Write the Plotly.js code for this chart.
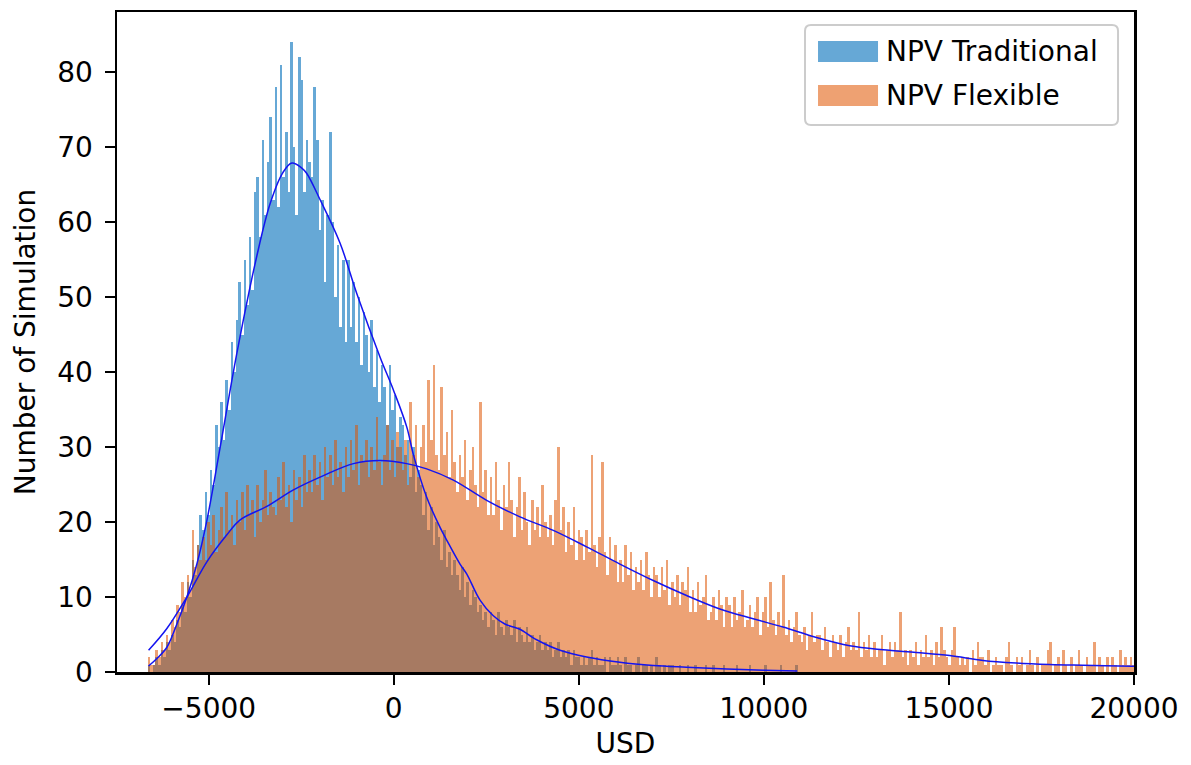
<!DOCTYPE html>
<html>
<head>
<meta charset="utf-8">
<script src="https://cdn.plot.ly/plotly-3.0.1.min.js"></script>
<style>
  html, body { margin: 0; padding: 0; background: #ffffff; }
  #chart { width: 1191px; height: 765px; }
</style>
</head>
<body>
<div id="chart"></div>
<script>
// ---- Histogram bins (USD) ----
const binStart = -6650;
const binWidth = 70;

// ---- NPV Traditional: counts per bin ----
const tradCounts = [
  1,0,1,2,1,3,2,
  4,3,5,4,7,6,9,
  8,12,10,15,13,17,21,
  19,24,21,27,25,33,30,
  36,31,39,35,44,40,47,
  52,45,55,49,58,51,64,
  66,58,71,61,68,74,63,
  78,62,81,66,72,64,84,
  70,61,82,79,64,71,68,
  66,78,71,59,63,52,61,
  72,60,50,57,46,55,44,
  55,46,52,44,50,41,48,
  45,40,47,38,43,36,41,
  38,33,41,35,37,30,34,
  33,29,31,26,30,24,27,
  25,21,24,19,22,17,20,
  18,15,19,14,16,13,15,
  13,11,14,10,12,9,11,
  10,8,9,7,8,6,8,
  7,5,8,6,5,7,6,
  5,7,4,6,5,4,6,
  4,5,3,4,5,3,4,
  3,4,2,3,4,2,3,
  2,3,1,3,2,2,1,
  2,1,2,3,1,2,1,1,2,0,2,1,1,2,
  1,0,2,1,1,0,1,2,0,1,1,0,1,0,2,1,0,1,0,1,1,0,
  0,1,0,0,1,0,0,1,0,0,0,1,0,0,1,0,0,0,1,0,0,0,0,1,
  0,0,0,0,1,0,0,0,0,0,1,0,0,0,0,0,1,0,0,0,0,0,1
];

// ---- NPV Flexible: counts per bin ----
const flexCounts = [
  2,1,1,3,2,4,3,
  5,4,7,6,9,8,12,
  10,13,11,19,14,17,15,
  18,15,20,17,21,16,19,
  22,18,24,19,21,17,23,
  20,24,19,25,21,23,18,
  25,20,23,27,21,24,22,
  21,26,23,28,22,25,20,
  27,23,26,22,29,24,27,
  24,29,25,28,23,30,26,
  29,25,31,26,28,24,30,
  26,31,27,33,25,29,28,
  31,26,30,27,34,28,25,
  29,33,27,31,26,32,30,
  27,31,25,36,29,33,26,
  30,33,28,39,31,41,29,
  27,38,29,32,26,35,28,
  24,29,26,31,23,27,30,
  25,22,36,24,27,21,26,
  21,28,23,19,25,22,28,
  23,18,22,26,19,24,20,
  17,23,19,22,18,25,20,
  18,21,17,23,30,19,22,
  16,20,17,22,15,19,18,
  15,19,16,29,17,14,18,
  28,16,13,18,15,17,12,
  15,12,17,13,16,11,14,
  12,15,11,16,13,10,14,
  13,10,14,11,15,9,12,
  10,13,9,12,11,14,8,
  11,8,12,9,10,13,7,
  8,10,7,11,9,6,10,
  9,6,10,7,8,11,6,
  7,9,6,8,10,5,8,
  10,6,12,7,5,8,6,
  13,5,7,4,6,8,5,
  4,6,3,5,8,4,5,
  5,3,6,4,2,5,4,
  3,5,2,4,6,3,4,
  3,8,2,4,3,5,2,
  4,2,3,5,1,3,4,
  2,4,3,8,2,3,1,
  3,2,4,1,3,2,5,
  2,3,1,4,2,6,3,
  2,1,3,6,2,1,2,
  1,2,0,3,1,4,2,
  2,1,3,0,1,2,1,
  1,0,2,4,1,0,2,
  1,2,0,1,3,1,0,
  2,0,1,1,3,4,0,
  1,2,0,3,1,0,2,
  0,1,3,1,0,2,1,
  1,4,0,2,1,0,2,
  0,2,1,0,3,1,2,
  1,2,1,0,2
];

// ---- Density curves (scaled to counts) ----
const tradKdeX = [-6625,-6400,-6130,-5860,-5590,-5320,-5050,-4690,-4240,-3700,-3340,-3000,-2754,-2500,-2350,-1990,-1450,-1000,-370,0,350,530,890,1250,1430,1790,1970,2330,2690,3000,3230,3410,3860,4490,5210,6110,7010,7910,9000,10000,10900];
const tradKdeY = [0.8,1.8,3.3,6.4,10.0,14.4,20.2,30.0,42.5,55.5,62.5,66.6,67.9,67.3,66.5,63,57.2,50.5,42,37.5,32.7,29,23.3,19.3,17.6,14.4,13.1,9.6,7.5,6.4,6.0,5.7,4.3,2.9,2.0,1.3,0.87,0.64,0.4,0.25,0.15];

const flexKdeX = [-6625,-6130,-5590,-5050,-4510,-4150,-3430,-2710,-1900,-1090,-370,350,890,1610,2510,3410,4310,5210,6110,7010,7910,8810,9710,10520,11420,12320,13220,14120,15020,15920,16820,17720,18620,19970,20500];
const flexKdeY = [2.9,5.8,10.0,14.7,18.3,20.3,22.1,24.3,26.2,27.8,28.2,27.8,27.1,25.6,22.9,20.7,18.9,16.7,14.4,12.2,10.2,8.4,7.1,6.0,4.6,3.5,2.96,2.6,2.2,1.55,1.2,1.0,0.9,0.78,0.75];

// ---- Axis ticks ----
const xTicks = [-5000, 0, 5000, 10000, 15000, 20000];
const yTicks = [0, 10, 20, 30, 40, 50, 60, 70, 80];

const seriesNames = ['NPV Traditional', 'NPV Flexible'];
const blueFill = 'rgb(102,168,214)';
const orangeFill = 'rgba(222,84,0,0.54)';
const orangePatch = 'rgb(238,161,114)';
const kdeColor = 'rgb(20,20,240)';
const FONT = 'DejaVu Sans, Verdana, sans-serif';
const FS = 28;

function centers(counts) {
  return counts.map((_, i) => binStart + (i + 0.5) * binWidth);
}

const traces = [
  {
    type: 'bar', name: seriesNames[0],
    x: centers(tradCounts), y: tradCounts, width: binWidth,
    marker: { color: blueFill, line: { width: 0 } },
    showlegend: false, hoverinfo: 'skip'
  },
  {
    type: 'bar', name: seriesNames[1],
    x: centers(flexCounts), y: flexCounts, width: binWidth,
    marker: { color: orangeFill, line: { width: 0 } },
    showlegend: false, hoverinfo: 'skip'
  },
  {
    type: 'scatter', mode: 'lines', x: tradKdeX, y: tradKdeY,
    line: { color: kdeColor, width: 1.5, shape: 'spline', smoothing: 1 },
    showlegend: false, hoverinfo: 'skip'
  },
  {
    type: 'scatter', mode: 'lines', x: flexKdeX, y: flexKdeY,
    line: { color: kdeColor, width: 1.5, shape: 'spline', smoothing: 1 },
    showlegend: false, hoverinfo: 'skip'
  }
];

// Legend box drawn in paper coordinates (matplotlib-style)
const lx0 = 0.6765, lx1 = 0.9843, ly0 = 0.8287, ly1 = 0.9803, rx = 0.0059, ry = 0.0091;
const legendPath = `M${lx0+rx},${ly1} L${lx1-rx},${ly1} Q${lx1},${ly1} ${lx1},${ly1-ry} L${lx1},${ly0+ry} Q${lx1},${ly0} ${lx1-rx},${ly0} L${lx0+rx},${ly0} Q${lx0},${ly0} ${lx0},${ly0+ry} L${lx0},${ly1-ry} Q${lx0},${ly1} ${lx0+rx},${ly1} Z`;

const layout = {
  width: 1191, height: 765,
  margin: { l: 117, r: 57, t: 12, b: 93 },
  paper_bgcolor: '#ffffff', plot_bgcolor: '#ffffff',
  barmode: 'overlay', bargap: 0,
  font: { family: FONT, size: FS, color: '#000000' },
  xaxis: {
    range: [-7478, 20000], tickvals: xTicks, ticktext: xTicks.map(v => v < 0 ? '\u2212' + Math.abs(v) : String(v)),
    ticks: 'outside', ticklen: 10, tickwidth: 2, tickcolor: '#000',
    showline: true, linewidth: 2.5, linecolor: '#000', mirror: true,
    showgrid: false, zeroline: false,
    tickfont: { family: FONT, size: FS, color: '#000' },
    title: { text: 'USD', font: { family: FONT, size: FS, color: '#000' }, standoff: 10 },
    automargin: false
  },
  yaxis: {
    range: [0, 88.05], tickvals: yTicks,
    ticks: 'outside', ticklen: 10, tickwidth: 2, tickcolor: '#000',
    ticklabelstandoff: 6,
    showline: true, linewidth: 2.5, linecolor: '#000', mirror: true,
    showgrid: false, zeroline: false,
    tickfont: { family: FONT, size: FS, color: '#000' },
    title: { text: 'Number of Simulation', font: { family: FONT, size: FS, color: '#000' }, standoff: 14 },
    automargin: false
  },
  shapes: [
    { type: 'path', xref: 'paper', yref: 'paper', path: legendPath,
      line: { color: 'rgb(204,204,204)', width: 2 }, fillcolor: 'rgba(255,255,255,0.8)', layer: 'above' },
    { type: 'rect', xref: 'paper', yref: 'paper', x0: 0.6893, x1: 0.7483, y0: 0.9242, y1: 0.9560,
      line: { width: 0 }, fillcolor: blueFill, layer: 'above' },
    { type: 'rect', xref: 'paper', yref: 'paper', x0: 0.6893, x1: 0.7483, y0: 0.8575, y1: 0.8893,
      line: { width: 0 }, fillcolor: orangePatch, layer: 'above' }
  ],
  annotations: [
    { xref: 'paper', yref: 'paper', x: 0.7540, y: 0.9401, xanchor: 'left', yanchor: 'middle',
      text: seriesNames[0], showarrow: false, font: { family: FONT, size: FS, color: '#000' } },
    { xref: 'paper', yref: 'paper', x: 0.7540, y: 0.8734, xanchor: 'left', yanchor: 'middle',
      text: seriesNames[1], showarrow: false, font: { family: FONT, size: FS, color: '#000' } }
  ]
};

Plotly.newPlot('chart', traces, layout, { displayModeBar: false, staticPlot: true });
</script>
</body>
</html>
